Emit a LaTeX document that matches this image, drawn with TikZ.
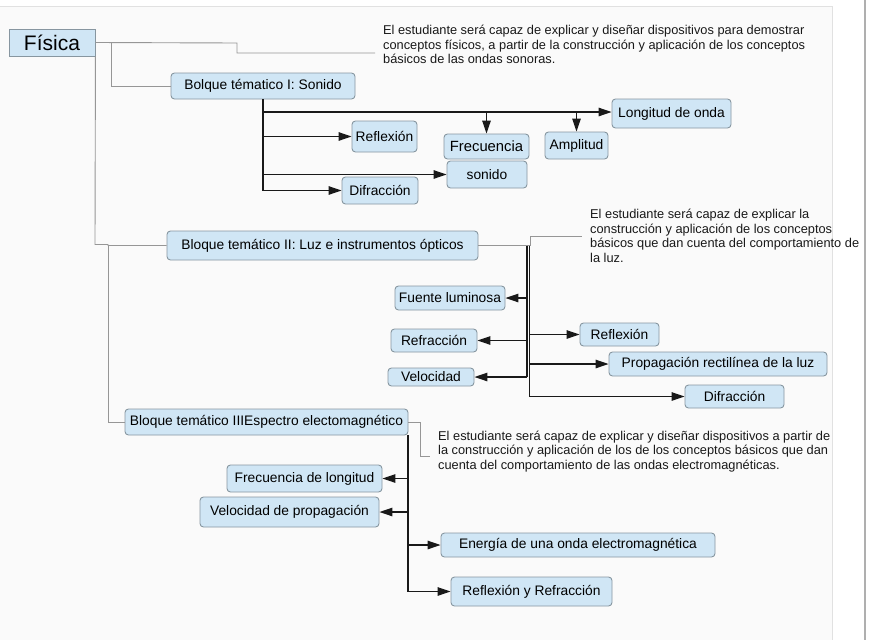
\documentclass[tikz,border=0pt]{standalone}
\usepackage{fontspec}
\setmainfont{Liberation Sans}
\usetikzlibrary{arrows.meta}
\definecolor{boxfill}{RGB}{208,230,245}
\definecolor{boxborder}{RGB}{135,150,160}
\definecolor{graylink}{RGB}{150,150,150}
\definecolor{darklink}{RGB}{25,25,25}
\definecolor{bgmain}{RGB}{250,250,250}
\definecolor{notetext}{RGB}{25,25,25}
\definecolor{edgelight}{RGB}{225,225,225}
\definecolor{edgedark}{RGB}{175,175,175}
\tikzset{
  bx/.style 2 args={draw=boxborder, fill=boxfill, rounded corners=3.5pt, line width=0.9pt,
    inner sep=0pt, minimum width=#1pt, minimum height=#2pt,
    font=\fontsize{13.8}{16}\selectfont},
  notebox/.style={anchor=west, inner sep=0pt, align=left, text=notetext,
    font=\fontsize{12.8}{14.5}\selectfont},
  glink/.style={draw=graylink, line width=0.9pt},
  dlink/.style={draw=darklink, line width=1.2pt},
  arr/.style={dlink, -{Triangle[length=13pt,width=8.5pt]}},
}
\begin{document}
\begin{tikzpicture}[x=1pt,y=-1pt]
\useasboundingbox (0,0) rectangle (882,640);
\fill[white] (0,0) rectangle (882,640);
\fill[bgmain] (0,6) rectangle (832,640);
\draw[draw=edgelight, line width=1pt] (0,6) -- (832,6);
\draw[draw=edgelight, line width=1.5pt] (832.5,6) -- (832.5,640);
\draw[draw=edgedark, line width=1.5pt] (865,0) -- (865,640);

% nodes
\node[bx={86}{27}, rounded corners=0pt, font=\fontsize{21}{24}\selectfont] (fisica) at (52,42.5) {Física};
\node[notebox] (note1) at (383,44.5) {El estudiante será capaz de explicar y diseñar dispositivos para demostrar\\conceptos físicos, a partir de la construcción y aplicación de los conceptos\\básicos de las ondas sonoras.};
\node[bx={184}{26}] (b1) at (263,86) {Bolque tématico I: Sonido};
\node[bx={119}{29}] (longitud) at (671.5,113.5) {Longitud de onda};
\node[bx={85}{25}, font=\fontsize{14.8}{17}\selectfont] (frecuencia) at (486.5,146.5) {Frecuencia};
\node[bx={63}{27}] (amplitud) at (576.5,145.5) {Amplitud};
\node[bx={65}{31}] (reflexion1) at (384.5,136.5) {Reflexión};
\node[bx={80}{27}] (sonido) at (487,174.5) {sonido};
\node[bx={76}{27}] (difraccion1) at (380,190.5) {Difracción};

\node[bx={311}{29}] (b2) at (322.5,245.5) {Bloque temático II: Luz e instrumentos ópticos};
\node[notebox] (note2) at (590,236) {El estudiante será capaz de explicar la\\construcción y aplicación de los conceptos\\básicos que dan cuenta del comportamiento de\\la luz.};
\node[bx={110}{24}] (fuente) at (450,298) {Fuente luminosa};
\node[bx={86}{23}] (refraccion) at (434,340.5) {Refracción};
\node[bx={86}{18}] (velocidad) at (431,377) {Velocidad};
\node[bx={79}{23}] (reflexion2) at (619.5,334.5) {Reflexión};
\node[bx={218}{24}] (propagacion) at (718,364) {Propagación rectilínea de la luz};
\node[bx={99}{23}] (difraccion2) at (734.5,396.5) {Difracción};

\node[bx={283}{26}] (b3) at (266.5,422) {Bloque temático IIIEspectro electomagnético};
\node[notebox] (note3) at (438,451.5) {El estudiante será capaz de explicar y diseñar dispositivos a partir de\\la construcción y aplicación de los de los conceptos básicos que dan\\cuenta del comportamiento de las ondas electromagnéticas.};
\node[bx={155}{27}] (freclong) at (304.5,478.5) {Frecuencia de longitud};
\node[bx={179}{30}] (velprop) at (289.5,512) {Velocidad de propagación};
\node[bx={274}{24}] (energia) at (578,545) {Energía de una onda electromagnética};
\node[bx={161}{29}] (reflrefr) at (531.5,591.5) {Reflexión y Refracción};

% gray tree links
\coordinate (n1a) at (237,43);
\coordinate (n1b) at (237,53);
\coordinate (n1end) at (375,53);
\draw[glink] (fisica.east) -- (n1a) -- (n1b) -- (n1end);
\coordinate (j1) at (111.5,43);
\draw[glink] (j1) |- (b1.west);
\coordinate (j2) at (95,244.5);
\coordinate (j3) at (108,244.5);
\draw[glink] (fisica.south east) -- (j2) -- (j3) -- (j3 |- b2.west) -- (b2.west);
\draw[glink] (j3) |- (b3.west);
\coordinate (n2a) at (530,245.5);
\coordinate (n2b) at (530,236);
\coordinate (n2end) at (582,236);
\draw[glink] (b2.east) -- (n2a) -- (n2b) -- (n2end);
\coordinate (n3a) at (420,422);
\coordinate (n3b) at (420,456);
\coordinate (n3end) at (430,456);
\draw[glink] (b3.east) -- (n3a) -- (n3b) -- (n3end);

% block I links
\coordinate (v1top) at (263,112);
\coordinate (v1bot) at (263,190.5);
\draw[dlink] (b1.south) -- (v1bot);
\draw[arr] (v1top) -- (v1top -| longitud.west);
\draw[arr] (frecuencia.north |- v1top) -- (frecuencia.north);
\draw[arr] (amplitud.north |- v1top) -- (amplitud.north);
\draw[arr] (v1top |- reflexion1.west) -- (reflexion1.west);
\draw[arr] (v1top |- sonido.west) -- (sonido.west);
\draw[arr] (v1top |- difraccion1.west) -- (difraccion1.west);

% block II links
\coordinate (v2l) at (527,245.5);
\coordinate (v2r) at (529.5,245.5);
\draw[dlink] (v2l) -- (v2l |- velocidad.east);
\draw[dlink] (v2r) -- (v2r |- difraccion2.west);
\draw[arr] (v2l |- fuente.east) -- (fuente.east);
\draw[arr] (v2l |- refraccion.east) -- (refraccion.east);
\draw[arr] (v2l |- velocidad.east) -- (velocidad.east);
\draw[arr] (v2r |- reflexion2.west) -- (reflexion2.west);
\draw[arr] (v2r |- propagacion.west) -- (propagacion.west);
\draw[arr] (v2r |- difraccion2.west) -- (difraccion2.west);

% block III links
\coordinate (v3) at (408,435);
\draw[dlink] (v3) -- (v3 |- reflrefr.west);
\draw[arr] (v3 |- freclong.east) -- (freclong.east);
\draw[arr] (v3 |- velprop.east) -- (velprop.east);
\draw[arr] (v3 |- energia.west) -- (energia.west);
\draw[arr] (v3 |- reflrefr.west) -- (reflrefr.west);
\end{tikzpicture}
\end{document}
